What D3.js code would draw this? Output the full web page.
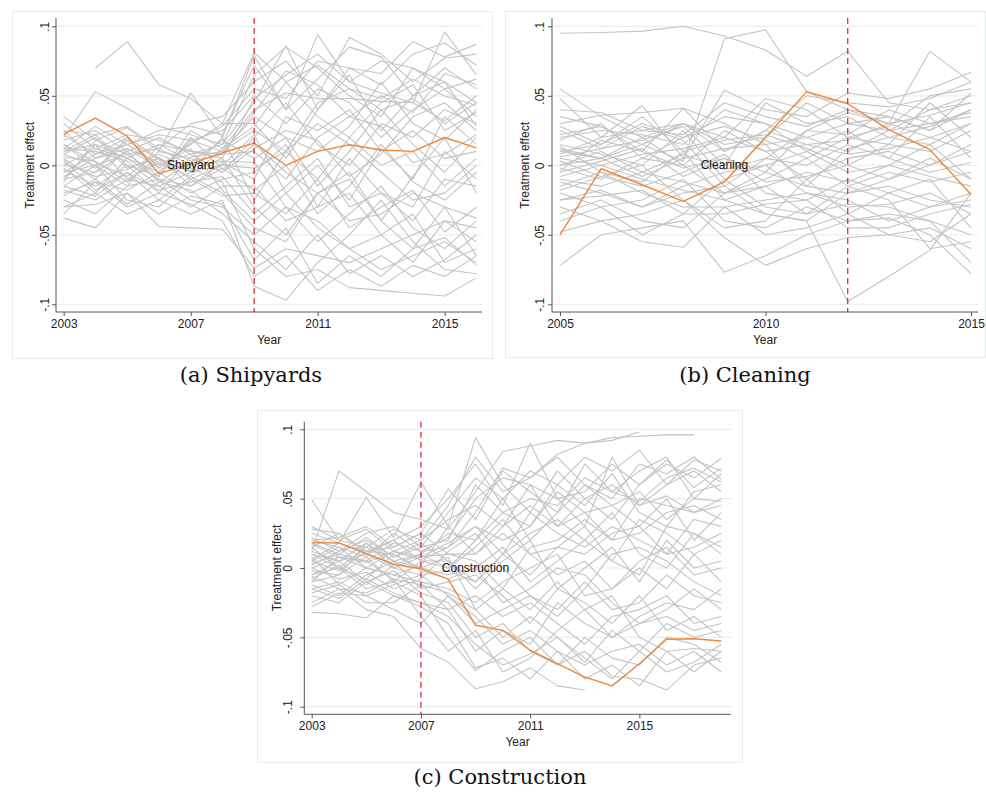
<!DOCTYPE html>
<html>
<head>
<meta charset="utf-8">
<script src="https://cdn.jsdelivr.net/npm/d3@7"></script>
<style>
  html, body { margin: 0; padding: 0; background: #ffffff; }
  svg { display: block; }
</style>
</head>
<body>
<svg id="chart" width="986" height="793"></svg>
<script>
// ---------- Data ----------
const yTicks = [-0.1, -0.05, 0, 0.05, 0.1];
const yTickLabels = ["-.1", "-.05", "0", ".05", ".1"];

// (a) Shipyards: years 2003-2016, treatment in 2009
const shipYears = d3.range(2003, 2017);
const shipXTicks = [2003, 2007, 2011, 2015];
const shipTreated = [.0225, .034, .021, -.006, .001, .009, .016, .000, .010, .0148, .011, .010, .020, .0125];
const shipPlacebo = [
  [null,.070,.089,.058,.048,.030,.081,.060,.072,.055,.048,.062,.050,.043],
  [.020,.053,.041,.028,.022,.015,.045,.086,.040,.070,.066,.089,.078,.087],
  [.035,.018,.027,.010,.052,.020,.079,.040,.094,.060,.052,.045,.096,.065],
  [.025,.022,.028,.012,.030,.035,.060,.075,.050,.092,.080,.060,.077,.080],
  [.010,.015,.005,-.005,.018,.025,.050,.030,.055,.045,.020,.040,.055,.035],
  [.005,-.010,.012,.002,-.008,.012,.040,.052,.048,.048,.046,.045,.032,.050],
  [-.005,.008,.020,-.002,.015,.030,.030,.005,.040,.065,.025,.050,.060,.028],
  [.015,.002,-.008,.010,.005,-.005,.020,.045,.015,.000,.030,.020,.040,.030],
  [.000,.012,.005,.015,.010,.008,.010,-.010,.020,.035,.028,.002,.008,.022],
  [-.010,-.005,.010,-.012,.002,.018,.005,.020,-.015,.010,.040,.015,-.005,.020],
  [.008,.020,-.002,.005,-.010,.000,.022,-.020,.000,-.025,.012,-.010,.035,.015],
  [-.020,-.012,-.018,-.005,-.020,-.010,-.005,.015,-.030,.005,-.020,-.040,-.010,-.015],
  [-.015,.000,-.025,-.030,-.010,-.022,-.020,-.035,-.010,-.045,-.030,-.018,-.048,-.030],
  [.012,.010,.003,-.015,-.005,.005,-.030,-.050,-.020,-.005,-.040,-.060,-.030,-.065],
  [-.025,-.035,-.015,-.010,-.025,-.030,-.050,-.030,-.055,-.035,-.015,-.045,-.060,-.040],
  [-.038,-.045,-.020,-.044,-.045,-.046,-.074,-.060,-.065,-.070,-.060,-.050,-.040,-.055],
  [-.030,-.020,-.035,-.025,-.035,-.025,-.087,-.097,-.070,-.050,-.025,-.055,-.075,-.078],
  [.002,-.008,-.003,.008,-.002,-.012,-.060,-.080,-.075,-.088,-.090,-.092,-.094,-.081],
  [-.008,.005,.015,.000,.012,-.018,-.040,-.020,-.045,-.060,-.050,-.035,-.070,-.060],
  [.018,.025,.010,.020,.008,.015,.065,.085,.070,.050,.035,.070,.060,.045],
  [-.003,-.015,.000,-.020,.006,.010,.035,.020,.010,.028,.060,.030,.018,.040],
  [.006,.003,-.012,.006,-.015,.002,-.010,.035,.025,.040,.010,.025,.005,.010],
  [-.012,.018,.008,-.008,.020,-.003,.015,-.005,-.020,-.010,-.040,-.008,.020,-.020],
  [.015,-.002,.018,.004,-.004,.020,-.025,.010,.030,.015,-.005,-.025,-.020,.000],
  [-.018,-.025,-.010,-.015,-.030,-.015,-.015,-.040,-.030,-.020,-.050,-.070,-.040,-.045],
  [.030,.012,.022,.018,.010,.005,.048,.065,.080,.060,.075,.070,.055,.062],
  [-.005,.000,.008,.012,.000,.003,.002,-.030,-.040,-.060,-.075,-.065,-.055,-.070],
  [.004,-.018,-.005,-.018,-.012,-.008,-.035,-.015,.005,-.030,-.020,-.030,.010,-.010],
  [.022,.008,.015,.025,.028,.022,.072,.040,.062,.085,.078,.050,.070,.055],
  [-.022,-.010,-.028,-.012,-.018,-.035,-.055,-.075,-.050,-.078,-.065,-.080,-.068,-.050],
  [.010,.022,.000,-.008,.025,.012,.028,.060,.035,.020,.045,.058,.025,.038],
  [-.030,-.028,-.020,-.035,-.022,-.028,-.068,-.045,-.085,-.065,-.080,-.060,-.052,-.072],
  [.000,-.005,.020,.005,-.005,.000,-.002,.010,-.010,.020,.000,.010,-.015,.005],
  [-.010,.015,-.010,.002,.008,-.005,.012,.025,.018,-.008,.008,.035,.045,.025],
  [.025,.005,.012,-.002,.016,.028,.055,.048,.075,.070,.058,.080,.088,.072],
  [-.015,-.022,-.005,-.025,-.008,-.020,-.045,-.055,-.020,-.040,-.035,-.020,-.030,-.038],
  [.008,.000,-.015,.015,.003,.008,.038,.068,.058,.035,.050,.038,.066,.058],
  [-.035,-.012,-.030,-.020,-.028,-.040,-.080,-.065,-.090,-.075,-.087,-.072,-.080,-.065],
  [.012,.028,.015,.022,.018,.010,.025,.010,.045,.055,.040,.048,.030,.045],
  [-.002,-.020,.005,-.010,-.015,-.002,-.018,.000,-.035,-.015,.015,-.012,-.025,-.005]
];

// (b) Cleaning: years 2005-2015, treatment in 2012
const cleanYears = d3.range(2005, 2016);
const cleanXTicks = [2005, 2010, 2015];
const cleanTreated = [-.050, -.0025, -.014, -.026, -.012, .020, .053, .0443, .0256, .0112, -.021];
const cleanPlacebo = [
  [.095,.0955,.0965,.100,.093,.083,.064,.082,.045,.040,.050],
  [.010,.005,.015,.003,.091,.0975,.053,.040,.030,.036,.045],
  [-.025,-.018,-.030,-.020,-.015,-.035,-.040,-.098,-.080,-.061,-.020],
  [.055,.035,.020,.030,.010,.025,.015,.018,.030,.082,.060],
  [.048,.020,.043,.005,.054,.040,.035,.052,.048,.055,.067],
  [.030,.036,.038,.041,.010,.025,.050,.045,.042,.048,.060],
  [.035,.028,.010,.041,.030,.015,.020,.030,.025,.040,.045],
  [.020,.025,.022,.015,.040,.030,.020,.010,.025,.030,.038],
  [.010,.015,.030,.020,.028,.018,.005,.020,.015,.010,.025],
  [.005,.000,.008,.012,.020,.010,.015,.008,.012,.020,.010],
  [.000,.010,-.005,.008,-.003,.005,.000,.015,.005,-.005,.002],
  [-.005,.003,.012,-.008,.005,-.012,-.008,.000,-.010,.005,-.010],
  [.015,.008,.000,.025,-.010,.000,.010,-.005,.000,.015,.030],
  [-.010,-.015,-.005,-.012,-.020,-.005,-.015,-.020,-.015,-.025,-.030],
  [-.015,-.005,-.020,-.030,-.030,-.025,-.020,-.030,-.028,-.020,-.035],
  [-.020,-.030,-.025,-.010,-.040,-.045,-.030,-.040,-.035,-.040,-.050],
  [-.030,-.040,-.035,-.025,-.052,-.072,-.060,-.052,-.050,-.045,-.060],
  [-.072,-.050,-.045,-.040,-.077,-.065,-.050,-.040,-.038,-.050,-.078],
  [-.048,-.040,-.055,-.059,-.030,-.050,-.045,-.035,-.050,-.055,-.035],
  [-.040,-.030,-.050,-.035,-.010,-.030,-.035,-.028,-.030,-.040,-.070],
  [.025,.012,.018,.028,.000,.045,.030,.035,.020,.028,.040],
  [.008,.020,.025,.030,.015,.020,.045,.030,.035,.025,.052],
  [-.002,-.010,.005,.000,.025,.010,-.010,.005,.010,.000,.015],
  [.012,.005,.020,.000,-.020,-.010,.005,-.015,-.005,-.012,-.005],
  [.003,-.008,-.015,-.005,.008,-.020,-.025,-.010,-.020,-.030,-.020],
  [-.008,.000,-.010,-.018,-.025,-.015,-.005,-.012,.000,-.008,-.015],
  [.018,.030,.005,.020,.035,.030,.010,.025,.005,.035,.005],
  [-.012,-.020,-.030,-.015,-.005,.000,-.020,-.025,-.040,-.030,-.025],
  [.028,.015,.035,.010,-.025,-.035,-.040,-.020,-.010,.000,.010],
  [-.018,-.008,.000,-.025,-.045,-.040,-.010,-.035,-.020,-.010,-.045],
  [.000,.005,-.008,.005,.012,.015,-.015,.012,.020,.015,-.010],
  [.022,.028,.015,.030,.020,.048,.040,.020,.028,.050,.055],
  [-.025,-.022,-.018,-.035,-.035,-.028,-.025,-.045,-.045,-.035,-.028],
  [.006,.012,.028,.018,-.015,.005,.025,.038,.030,.020,.030],
  [-.035,-.025,-.040,-.045,-.020,-.015,-.035,-.015,-.025,-.060,-.055],
  [.014,-.005,-.012,.010,.018,.022,.012,.000,.015,.045,.020],
  [-.004,.018,.010,-.002,.005,-.005,.025,.022,.040,.030,.035],
  [.040,.038,.025,.022,.045,.035,.028,.040,.035,.025,.040]
];

// (c) Construction: years 2003-2018, treatment in 2007
const consYears = d3.range(2003, 2019);
const consXTicks = [2003, 2007, 2011, 2015];
const consTreated = [.0183, .018, .0104, .0027, -.0005, -.008, -.0413, -.045, -.0593, -.069, -.0786, -.085, -.069, -.0514, -.051, -.0526];
const consPlacebo = [
  [.049,.020,.028,.012,.006,.015,.040,.072,.065,.082,.090,.092,.098,null,null,null],
  [.012,.070,.055,.040,.035,.028,.055,.084,.088,.092,.090,.094,.095,.096,.096,null],
  [.025,.018,.051,.022,.062,.030,.094,.060,.040,.070,.050,.035,.060,.075,.065,.079],
  [.028,.025,.012,.020,.030,.050,.075,.045,.090,.050,.030,.080,.045,.060,.078,.070],
  [.020,.022,.030,.015,.025,.057,.035,.070,.055,.040,.075,.055,.070,.080,.050,.068],
  [.018,.010,.022,.008,.015,.020,.060,.040,.030,.060,.045,.068,.040,.030,.055,.060],
  [.005,.015,.000,.012,.020,.035,.045,.030,.060,.030,.040,.020,.050,.045,.040,.050],
  [.010,.000,.015,.005,.010,.025,.020,.050,.020,.040,.060,.045,.030,.050,.020,.040],
  [.000,.008,.005,.018,.012,.015,.030,.010,.040,.025,.015,.030,.020,.010,.035,.030],
  [-.005,.005,.010,.000,.008,.010,.010,.025,.010,.015,.030,.005,.035,.025,.010,.020],
  [.015,.000,-.008,.010,.000,-.005,.000,.015,-.010,.005,.020,.040,.010,.000,.025,.015],
  [-.010,-.005,.008,-.010,.005,.005,-.015,.005,.020,-.015,.000,.015,-.010,.020,.000,.005],
  [.008,-.012,.000,-.005,-.010,-.015,-.025,-.010,.000,.010,-.020,-.015,.000,-.015,.010,-.010],
  [-.015,-.010,-.020,-.012,-.005,-.020,-.040,-.030,-.020,-.030,-.010,-.030,-.025,-.005,-.020,-.025],
  [-.020,-.025,-.010,-.020,-.025,-.030,-.060,-.045,-.055,-.025,-.040,-.050,-.040,-.035,-.045,-.040],
  [-.032,-.033,-.036,-.020,-.028,-.040,-.072,-.065,-.080,-.060,-.070,-.060,-.055,-.070,-.060,-.075],
  [-.025,-.015,-.030,-.035,-.058,-.068,-.087,-.082,-.072,-.085,-.088,null,null,null,null,null],
  [-.005,.000,-.015,-.010,-.020,-.050,-.074,-.060,-.050,-.070,-.060,-.078,-.080,-.088,-.070,-.065],
  [.003,.010,.005,-.008,-.035,-.060,-.045,-.075,-.065,-.045,-.030,-.020,-.050,-.060,-.075,-.060],
  [.012,.005,.018,.005,.000,.008,-.030,-.050,-.035,-.050,-.068,-.045,-.060,-.040,-.050,-.045],
  [-.012,-.020,-.005,.005,-.015,-.010,-.005,-.020,-.040,-.015,-.025,-.040,-.020,-.045,-.035,-.050],
  [.022,.012,.025,.030,.015,.040,.065,.050,.070,.060,.080,.070,.085,.060,.070,.055],
  [-.008,.002,-.012,.002,.010,.000,.015,.035,.010,-.005,.005,-.015,.005,.015,-.005,.000],
  [.006,.018,.012,.015,.025,.010,.005,-.015,.015,.020,.035,.020,.025,.040,.045,.035],
  [.000,-.008,-.003,-.015,-.008,.012,.025,.000,-.020,-.035,-.015,.010,.015,.005,-.010,-.020],
  [-.018,-.012,-.025,-.025,-.012,-.030,-.020,-.035,-.025,-.040,-.055,-.035,-.030,-.020,-.040,-.035],
  [.015,.025,.010,.020,.005,.000,.020,.040,.050,.045,.065,.055,.048,.065,.072,.062],
  [-.002,-.005,.018,.000,-.005,-.002,-.010,.010,.025,.035,.020,.005,-.005,.030,.025,.010],
  [.010,.005,-.010,-.002,-.018,-.025,-.050,-.040,-.060,-.070,-.050,-.065,-.070,-.050,-.055,-.068],
  [-.028,-.018,-.020,-.030,-.040,-.020,-.035,-.055,-.045,-.060,-.080,-.070,-.085,-.060,-.058,-.060],
  [.020,.015,.008,.025,.012,.022,.050,.065,.060,.050,.055,.075,.060,.078,.058,.072],
  [-.010,.008,.000,-.005,.002,.030,.010,.030,.045,.030,.050,.060,.045,.052,.040,.045],
  [.005,-.002,.012,.010,-.002,-.008,.000,-.025,-.015,.000,-.005,-.025,-.040,-.030,-.015,-.030],
  [-.015,-.022,-.008,-.018,-.025,-.035,-.055,-.070,-.062,-.050,-.065,-.080,-.060,-.075,-.068,-.055],
  [.030,.020,.015,.028,.020,.045,.080,.055,.065,.080,.060,.050,.075,.068,.080,.064],
  [.002,.012,.020,.008,.018,.005,-.010,.010,-.005,.015,.010,.025,.030,.010,.015,.025],
  [-.006,-.015,-.018,-.008,-.012,-.018,-.030,-.015,-.030,-.010,-.030,-.050,-.035,-.025,-.030,-.015],
  [.017,.008,.004,.012,.008,.018,.030,.020,.030,.055,.040,.045,.055,.035,.050,.048]
];

// ---------- Drawing ----------
const svg = d3.select("#chart");
const FONT = "Liberation Sans, Arial, sans-serif";
const GRAY = "#c4c4c4";
const ORANGE = "#f0883a";
const RED = "#d6333f";
const AXIS = "#555555";
const GRID = "#e6f0f0";

function drawPanel(p) {
  const g = svg.append("g");

  // outer frame of the sub-figure
  g.append("rect")
    .attr("x", p.frame[0] + 0.5).attr("y", p.frame[1] + 0.5)
    .attr("width", p.frame[2]).attr("height", p.frame[3])
    .attr("fill", "none").attr("stroke", "#e3eded").attr("stroke-width", 1);

  const x = d3.scaleLinear().domain(p.xDomain).range(p.xRange);
  const y = d3.scaleLinear().domain([-0.1, 0.1]).range(p.yRange);

  // horizontal grid lines
  g.append("g").selectAll("line").data(yTicks).join("line")
    .attr("x1", p.left).attr("x2", p.right)
    .attr("y1", d => y(d)).attr("y2", d => y(d))
    .attr("stroke", GRID).attr("stroke-width", 1.2);

  const line = d3.line()
    .defined(d => d.v !== null)
    .x(d => x(d.t)).y(d => y(d.v));

  // placebo units
  g.append("g").selectAll("path").data(p.placebo).join("path")
    .attr("d", s => line(s.map((v, i) => ({ t: p.years[i], v }))))
    .attr("fill", "none").attr("stroke", GRAY).attr("stroke-width", 1.1)
    .attr("stroke-linejoin", "round");

  // treated unit
  g.append("path")
    .attr("d", line(p.treated.map((v, i) => ({ t: p.years[i], v }))))
    .attr("fill", "none").attr("stroke", ORANGE).attr("stroke-width", 1.4)
    .attr("stroke-linejoin", "round");

  // treatment year
  g.append("line")
    .attr("x1", x(p.treatYear)).attr("x2", x(p.treatYear))
    .attr("y1", p.top).attr("y2", p.bottom)
    .attr("stroke", RED).attr("stroke-width", 1.3)
    .attr("stroke-dasharray", "6,4");

  // axes
  const xAxis = d3.axisBottom(x).tickValues(p.xTicks).tickFormat(d3.format("d"))
    .tickSize(4).tickSizeOuter(0).tickPadding(3);
  const gx = g.append("g").attr("transform", `translate(0,${p.bottom})`).call(xAxis);
  gx.select(".domain").attr("d", `M${p.left},0H${p.right}`).attr("stroke", AXIS);
  gx.selectAll(".tick line").attr("stroke", AXIS);
  gx.selectAll(".tick text").attr("font-family", FONT).attr("font-size", 12).attr("fill", "#222");

  const yAxis = d3.axisLeft(y).tickValues(yTicks)
    .tickFormat((d, i) => yTickLabels[i]).tickSize(4).tickSizeOuter(0);
  const gy = g.append("g").attr("transform", `translate(${p.left},0)`).call(yAxis);
  gy.select(".domain").attr("d", `M0,${p.top}V${p.bottom}`).attr("stroke", AXIS);
  gy.selectAll(".tick line").attr("stroke", AXIS);
  gy.selectAll(".tick text")
    .attr("x", null).attr("dy", null)
    .attr("transform", `translate(${p.yLabelX - p.left},0) rotate(-90)`)
    .attr("text-anchor", "middle").attr("dominant-baseline", "central")
    .attr("font-family", FONT).attr("font-size", 12).attr("fill", "#222");

  // axis titles
  g.append("text")
    .attr("transform", `translate(${p.yTitleX},${y(0)}) rotate(-90)`)
    .attr("text-anchor", "middle").attr("dominant-baseline", "central")
    .attr("font-family", FONT).attr("font-size", 12).attr("fill", "#222")
    .text("Treatment effect");
  g.append("text")
    .attr("x", (p.left + p.right) / 2).attr("y", p.yearY)
    .attr("text-anchor", "middle").attr("dominant-baseline", "central")
    .attr("font-family", FONT).attr("font-size", 12).attr("fill", "#222")
    .text("Year");

  // treated-unit label
  g.append("text")
    .attr("x", x(p.labelYear)).attr("y", y(0))
    .attr("text-anchor", "middle").attr("dominant-baseline", "central")
    .attr("font-family", FONT).attr("font-size", 12).attr("fill", "#111")
    .text(p.label);

  // sub-figure caption
  g.append("text")
    .attr("x", p.captionX).attr("y", p.captionY)
    .attr("text-anchor", "middle").attr("dominant-baseline", "central")
    .attr("font-family", "DejaVu Serif, serif").attr("font-size", 21).attr("fill", "#111")
    .text(p.caption);
}

drawPanel({
  frame: [12, 11, 480, 347],
  left: 56, right: 482, top: 18, bottom: 312,
  xDomain: [2003, 2016], xRange: [63.7, 476.4], yRange: [304.3, 26.3],
  years: shipYears, xTicks: shipXTicks, placebo: shipPlacebo, treated: shipTreated,
  treatYear: 2009, yLabelX: 44.7, yTitleX: 30, yearY: 339.5,
  label: "Shipyard", labelYear: 2007,
  caption: "(a) Shipyards", captionX: 251, captionY: 375
});

drawPanel({
  frame: [505, 11, 480, 346],
  left: 552, right: 978, top: 18, bottom: 312,
  xDomain: [2005, 2015], xRange: [560, 971], yRange: [304.3, 26.3],
  years: cleanYears, xTicks: cleanXTicks, placebo: cleanPlacebo, treated: cleanTreated,
  treatYear: 2012, yLabelX: 540, yTitleX: 525, yearY: 339.5,
  label: "Cleaning", labelYear: 2009,
  caption: "(b) Cleaning", captionX: 745, captionY: 375
});

drawPanel({
  frame: [257, 410, 485, 352],
  left: 304.3, right: 730.7, top: 421.7, bottom: 714.3,
  xDomain: [2003, 2018], xRange: [311.7, 721.3], yRange: [706.7, 429.3],
  years: consYears, xTicks: consXTicks, placebo: consPlacebo, treated: consTreated,
  treatYear: 2007, yLabelX: 288.3, yTitleX: 276.7, yearY: 741.7,
  label: "Construction", labelYear: 2009,
  caption: "(c) Construction", captionX: 500, captionY: 777
});
</script>
</body>
</html>
